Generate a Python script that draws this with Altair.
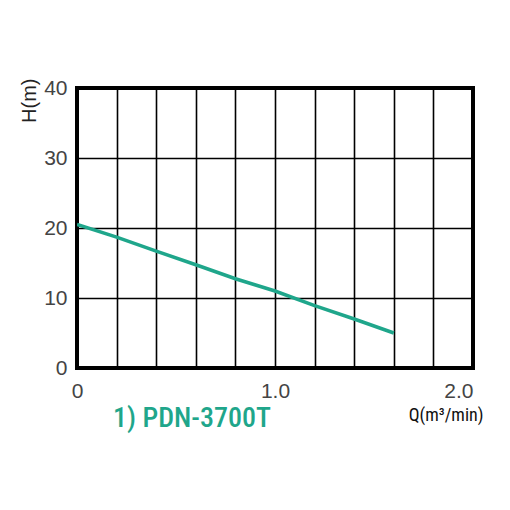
import altair as alt
import pandas as pd

# data
q_values = [0.0, 0.2, 0.4, 0.6, 0.8, 1.0, 1.2, 1.4, 1.6]
h_values = [20.5, 18.7, 16.7, 14.75, 12.75, 11.0, 8.9, 7.0, 5.0]
series_name = "1) PDN-3700T"
x_grid = [0.0, 0.2, 0.4, 0.6, 0.8, 1.0, 1.2, 1.4, 1.6, 1.8, 2.0]
y_ticks = [0, 10, 20, 30, 40]

df = pd.DataFrame({"Q": q_values, "H": h_values, "series": series_name})

TEAL = "#1fa68b"
LABEL_FONT = "Liberation Sans"
COND_FONT = "'Liberation Sans Narrow', 'Roboto Condensed', 'DejaVu Sans Condensed', 'Liberation Sans', sans-serif"

line = alt.Chart(df).mark_line(color=TEAL, strokeWidth=3.5, clip=True).encode(
    x=alt.X(
        "Q:Q",
        scale=alt.Scale(domain=[0, 2], nice=False, zero=True),
        axis=alt.Axis(
            values=x_grid,
            labelExpr="datum.value == 0 ? '0' : (datum.value == 1 || datum.value == 2) ? format(datum.value, '.1f') : ''",
            labelAlign=alt.expr("datum.value == 2 ? 'right' : 'center'"),
            title="Q(m³/min)",
            titleFont=COND_FONT,
            titleFontSize=18,
            titleFontWeight="normal",
            titleColor="#111111",
            titleAlign="right",
            titleAnchor="end",
            titleX=406,
            titleY=52,
            titleBaseline="alphabetic",
        ),
    ),
    y=alt.Y(
        "H:Q",
        scale=alt.Scale(domain=[0, 40], nice=False),
        axis=alt.Axis(
            values=y_ticks,
            title="H(m)",
            titleFont=LABEL_FONT,
            titleFontSize=20,
            titleFontWeight="normal",
            titleColor="#222222",
            titleAngle=270,
            titleAnchor="end",
            titleAlign="right",
            titleBaseline="middle",
            titleX=-48,
            titleY=-10,
        ),
    ),
)

chart = line.properties(
    width=396,
    height=280,
    title=alt.TitleParams(
        text=series_name,
        orient="bottom",
        anchor="start",
        frame="group",
        font=COND_FONT,
        fontSize=28,
        fontWeight=500,
        color=TEAL,
        dx=36,
        dy=-21,
        offset=2,
    ),
    padding={"left": 69, "top": 80, "right": 25, "bottom": 130},
    autosize=alt.AutoSizeParams(type="none"),
).configure_view(
    stroke="black", strokeWidth=4
).configure_axis(
    domain=False,
    ticks=False,
    grid=True,
    gridColor="black",
    gridWidth=1.6,
    gridOpacity=1,
    labelFont=LABEL_FONT,
    labelFontSize=21,
    labelColor="#444444",
).configure_axisY(
    labelPadding=10,
).configure_axisX(
    labelPadding=12,
)

chart.save("out.html", embed_options={"renderer": "svg", "actions": False})
